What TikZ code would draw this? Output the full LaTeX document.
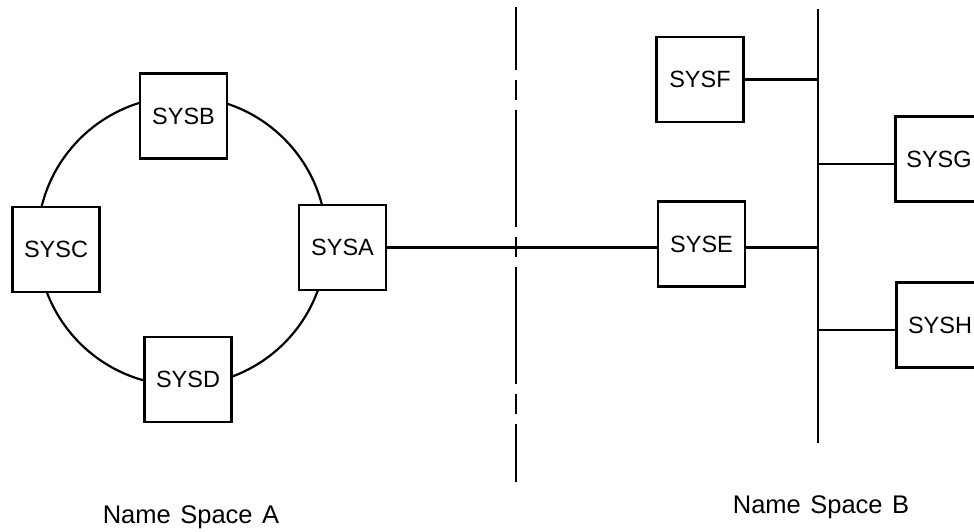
\documentclass[tikz,border=0pt]{standalone}
\usepackage{fontspec}
\setmainfont{Liberation Sans}
\begin{document}
\begin{tikzpicture}[x=1pt,y=-1pt,
  sysbox/.style={draw,line width=2.4pt,fill=white,minimum width=87pt,minimum height=85pt,inner sep=0pt,font=\fontsize{23.5}{27}\selectfont},
  link/.style={line width=2.2pt},
  nslabel/.style={anchor=base,inner sep=0pt,font=\fontsize{25.5}{28}\selectfont}]
\useasboundingbox (0,0) rectangle (974,531);
\clip (0,0) rectangle (974,531);
% ring
\coordinate (ring) at (182,241);
\draw[link] (ring) circle[radius=144.5pt];
\node[sysbox] (SYSB) at (183.5,116) {SYSB};
\node[sysbox] (SYSC) at (56,249.5) {SYSC};
\node[sysbox] (SYSA) at (342.5,247.5) {SYSA};
\node[sysbox] (SYSD) at (188,379.5) {SYSD};
% boundary
\coordinate (divtop) at (516,7);
\coordinate (divbot) at (516,482);
\draw[line width=2.6pt,dash pattern=on 117pt off 10pt on 20pt off 10pt,dash phase=54pt] (divtop) -- (divbot);
% name space B
\node[sysbox] (SYSF) at (700,79.5) {SYSF};
\node[sysbox] (SYSE) at (701.5,244) {SYSE};
\node[sysbox] (SYSG) at (939,159) {SYSG};
\node[sysbox] (SYSH) at (940,325) {SYSH};
\coordinate (bustop) at (818,9);
\coordinate (busbot) at (818,443);
\draw[line width=2.6pt] (bustop) -- (busbot);
\draw[link] (SYSA.east) -- (SYSA.east -| SYSE.west);
\draw[link] (SYSE.east |- SYSA.east) -- (SYSA.east -| bustop);
\draw[link] (SYSF.east) -- (SYSF.east -| bustop);
\draw[link] ([yshift=-5pt]SYSG.west) -- ([yshift=-5pt]SYSG.west -| bustop);
\draw[link] ([yshift=-5pt]SYSH.west) -- ([yshift=-5pt]SYSH.west -| bustop);
% labels
\node[nslabel] (nsA) at (191,523) {\spaceskip=9.5pt Name Space A};
\node[nslabel] (nsB) at (821,513) {\spaceskip=9.5pt Name Space B};
\end{tikzpicture}
\end{document}
